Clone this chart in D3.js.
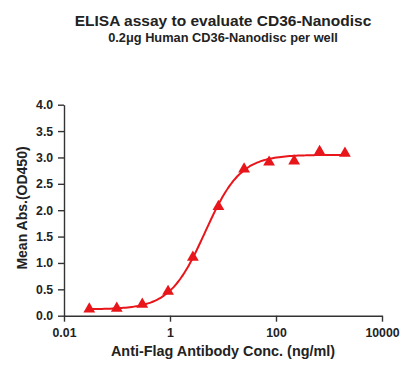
<!DOCTYPE html>
<html><head><meta charset="utf-8">
<script src="https://cdn.jsdelivr.net/npm/d3@7"></script>
<style>body{margin:0;background:#fff}svg{display:block}text{font-family:Arial,"Liberation Sans",sans-serif}</style>
</head><body><svg id="c" width="419" height="376"></svg>
<script>
const concentrations = [0.03, 0.099, 0.30, 0.92, 2.7, 8.2, 25, 74, 220, 665, 2000];
const meanAbs = [0.127, 0.14, 0.216, 0.46, 1.107, 2.07, 2.78, 2.91, 2.93, 3.11, 3.08];
// 4PL fit parameters estimated from the drawn curve: bottom, top, EC50, hill
const fitParams = {bottom: 0.12, top: 3.05, ec50: 4.6, hill: 1.3};
const xTicks = [0.01, 1, 100, 10000];
const xTickLabels = ["0.01", "1", "100", "10000"];
const yTicks = [0, 0.5, 1, 1.5, 2, 2.5, 3, 3.5, 4];

const svg = d3.select("#c");
const x = d3.scaleLog().domain([0.01, 10000]).range([64, 382]);
const y = d3.scaleLinear().domain([0, 4]).range([315.7, 104.7]);
const red = "#e8151b";

const xAxis = svg.append("g").attr("transform","translate(0,315.7)")
  .call(d3.axisBottom(x).tickValues(xTicks).tickFormat((d,i)=>xTickLabels[i]).tickSize(6).tickSizeOuter(0));
const yAxis = svg.append("g").attr("transform","translate(64,0)")
  .call(d3.axisLeft(y).tickValues(yTicks).tickFormat(d3.format(".1f")).tickSize(6).tickSizeOuter(0));
[xAxis, yAxis].forEach(g=>{
  g.select(".domain").attr("stroke","#333").attr("stroke-width",1.4);
  g.selectAll(".tick line").attr("stroke","#333").attr("stroke-width",1.4);
  g.selectAll(".tick text").attr("fill","#222").attr("font-size","12.3px").attr("font-weight","bold");
});
xAxis.selectAll(".tick text").attr("dy","1.0em");
yAxis.selectAll(".tick text").attr("dx","-0.15em");

// fitted curve
const f = c => fitParams.bottom + (fitParams.top - fitParams.bottom) / (1 + Math.pow(fitParams.ec50 / c, fitParams.hill));
const curvePts = d3.range(0, 121).map(i => {
  const lc = Math.log10(concentrations[0]) + i * (Math.log10(concentrations[concentrations.length-1]) - Math.log10(concentrations[0])) / 120;
  const c = Math.pow(10, lc);
  return [c, f(c)];
});
svg.append("path").datum(curvePts)
  .attr("d", d3.line().x(d=>x(d[0])).y(d=>y(d[1])).curve(d3.curveBasis))
  .attr("fill","none").attr("stroke",red).attr("stroke-width",2);

// markers
const tri = d3.symbol().type(d3.symbolTriangle).size(60);
svg.selectAll(".pt").data(concentrations).join("path")
  .attr("transform",(d,i)=>`translate(${x(d)},${y(meanAbs[i])})`)
  .attr("d", tri).attr("fill",red);

// titles
svg.append("text").attr("x",223).attr("y",26).attr("text-anchor","middle")
  .attr("font-size","15.5px").attr("font-weight","bold").attr("fill","#222")
  .text("ELISA assay to evaluate CD36-Nanodisc");
svg.append("text").attr("x",223).attr("y",42).attr("text-anchor","middle")
  .attr("font-size","12.8px").attr("font-weight","bold").attr("fill","#222")
  .text("0.2μg Human CD36-Nanodisc per well");
svg.append("text").attr("x",223).attr("y",356).attr("text-anchor","middle")
  .attr("font-size","14.4px").attr("font-weight","bold").attr("fill","#222")
  .text("Anti-Flag Antibody Conc. (ng/ml)");
svg.append("text").attr("transform","translate(27,208) rotate(-90)").attr("text-anchor","middle")
  .attr("font-size","14px").attr("font-weight","bold").attr("fill","#222")
  .text("Mean Abs.(OD450)");
</script></body></html>
